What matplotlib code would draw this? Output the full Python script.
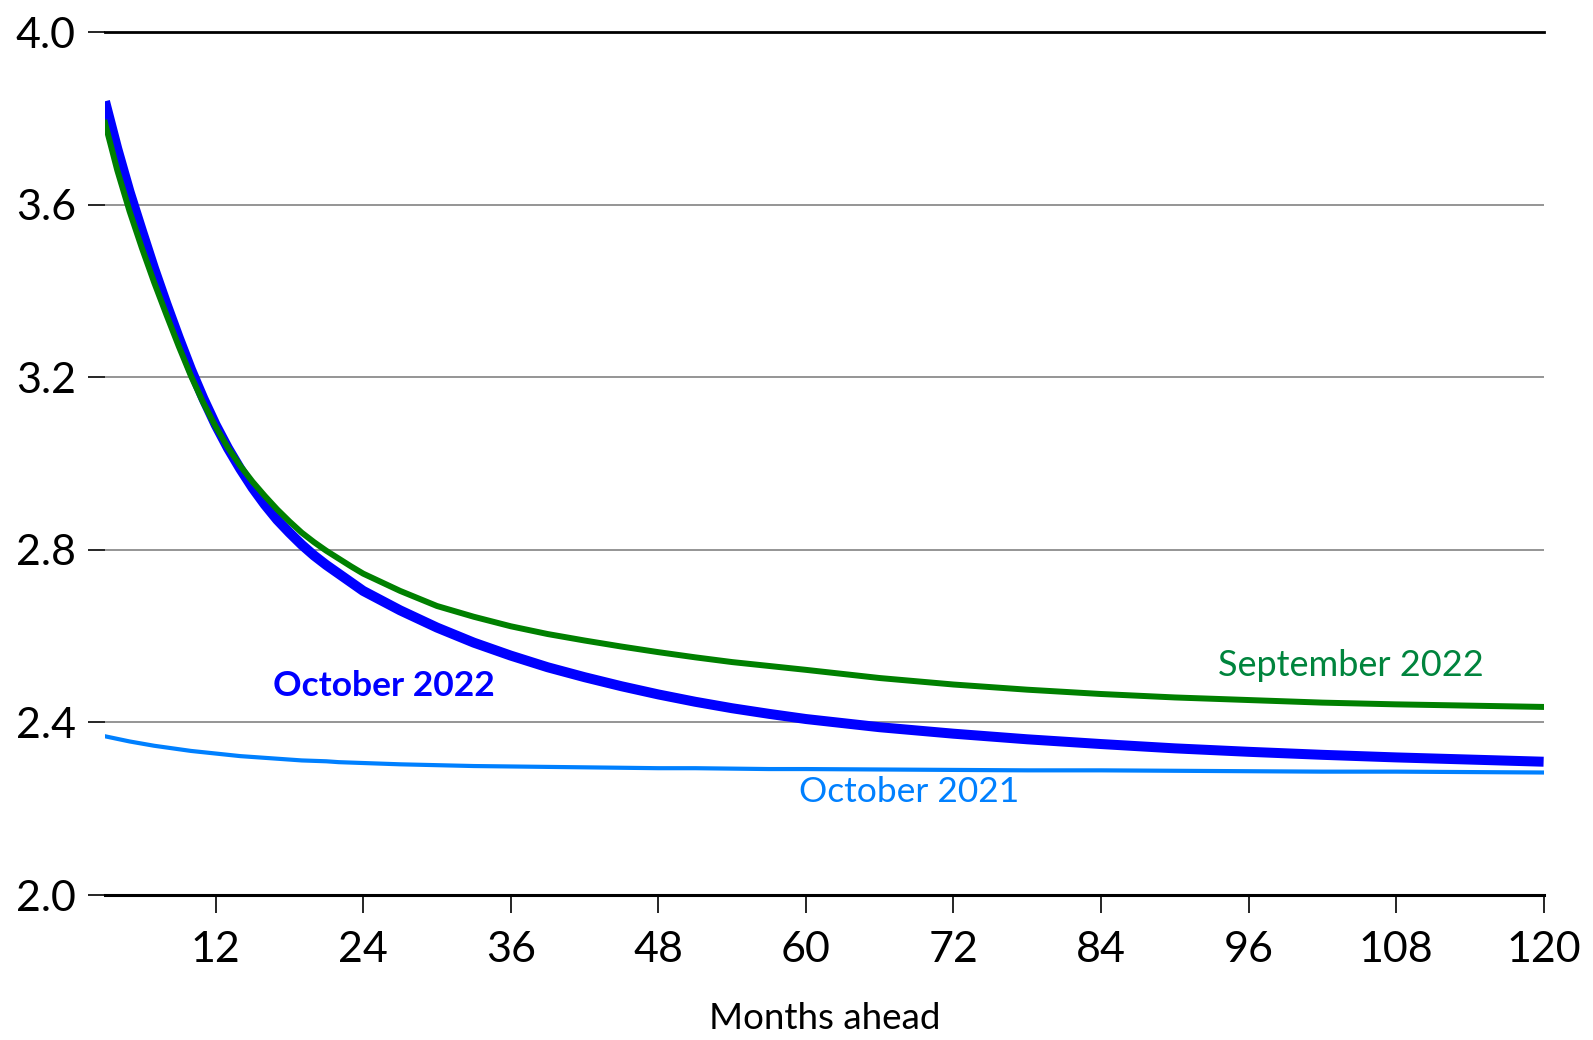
import matplotlib
matplotlib.use("Agg")
import matplotlib.pyplot as plt

plt.rcParams['font.family'] = ['Lato', 'DejaVu Sans']

months = [3, 4, 5, 6, 7, 8, 9, 10, 11, 12, 13, 14, 15, 16, 17, 18, 19, 20, 21,
          22, 23, 24, 27, 30, 33, 36, 39, 42, 45, 48, 51, 54, 57, 60,
          66, 72, 78, 84, 90, 96, 102, 108, 114, 120]

oct_2022 = [3.84, 3.73, 3.63, 3.54, 3.452, 3.37, 3.292, 3.218, 3.151, 3.09,
            3.036, 2.988, 2.944, 2.905, 2.870, 2.84, 2.812, 2.787, 2.765,
            2.745, 2.725, 2.705, 2.66, 2.62, 2.585, 2.555, 2.528, 2.505, 2.484,
            2.465, 2.448, 2.433, 2.42, 2.408,
            2.389, 2.374, 2.361, 2.350, 2.340, 2.332, 2.325, 2.319, 2.314, 2.309]

sep_2022 = [3.79, 3.68, 3.585, 3.50, 3.42, 3.345, 3.272, 3.203, 3.141, 3.086,
            3.037, 2.995, 2.958, 2.925, 2.894, 2.866, 2.84, 2.818, 2.798, 2.78,
            2.762, 2.745, 2.705, 2.67, 2.645, 2.623, 2.605, 2.59, 2.576, 2.563,
            2.551, 2.54, 2.531, 2.522,
            2.503, 2.488, 2.476, 2.466, 2.458, 2.452, 2.446, 2.442, 2.439, 2.436]

oct_2021 = [2.368, 2.362, 2.356, 2.351, 2.346, 2.342, 2.338, 2.334, 2.331,
            2.328, 2.325, 2.322, 2.320, 2.318, 2.316, 2.314, 2.312, 2.311,
            2.310, 2.308, 2.307, 2.306, 2.303, 2.301, 2.299, 2.298, 2.297,
            2.296, 2.295, 2.294, 2.294, 2.293, 2.292, 2.292,
            2.291, 2.290, 2.289, 2.289, 2.288, 2.287, 2.286, 2.286, 2.285, 2.284]

x_ticks = [12, 24, 36, 48, 60, 72, 84, 96, 108, 120]
y_ticks = [2.0, 2.4, 2.8, 3.2, 3.6, 4.0]
y_labels = ["2.0", "2.4", "2.8", "3.2", "3.6", "4.0"]

fig = plt.figure(figsize=(15.93, 10.40), dpi=100)
ax = fig.add_axes([0.0659, 0.1394, 0.9031, 0.8296])

for y in [2.4, 2.8, 3.2, 3.6]:
    ax.axhline(y, color='#8c8c8c', lw=1.3, zorder=1)
ax.axhline(4.0, color='black', lw=2.0, zorder=1, clip_on=False)

ax.plot(months, oct_2021, color='#0080FF', lw=3.0, zorder=3)
ax.plot(months, sep_2022, color='#008000', lw=4.3, zorder=4)
ax.plot(months, oct_2022, color='#0000FF', lw=7.2, zorder=3,
        solid_capstyle='butt')

ax.set_xlim(3, 120)
ax.set_ylim(2.0, 4.0)

for s in ['left', 'right', 'top']:
    ax.spines[s].set_visible(False)
ax.spines['bottom'].set_linewidth(2.2)
ax.spines['bottom'].set_color('black')

ax.set_xticks(x_ticks)
ax.set_xticklabels([str(v) for v in x_ticks])
ax.set_yticks(y_ticks)
ax.set_yticklabels(y_labels)

ax.tick_params(axis='x', direction='out', length=13, width=1.2, pad=13,
               labelsize=31, colors='black')
ax.tick_params(axis='y', direction='out', length=12, width=1.2, pad=9,
               labelsize=31, colors='black')

ax.set_xlabel("Months ahead", fontsize=26.5, labelpad=24)

ax.text(25.7, 2.484, "October 2022", color='#0000FF', fontsize=25.5,
        fontweight='bold', ha='center', va='center')
ax.text(104.3, 2.533, "September 2022", color='#00843D', fontsize=26,
        ha='center', va='center')
ax.text(68.4, 2.239, "October 2021", color='#0080FF', fontsize=25.5,
        ha='center', va='center')

fig.savefig("out.png", dpi=100)
